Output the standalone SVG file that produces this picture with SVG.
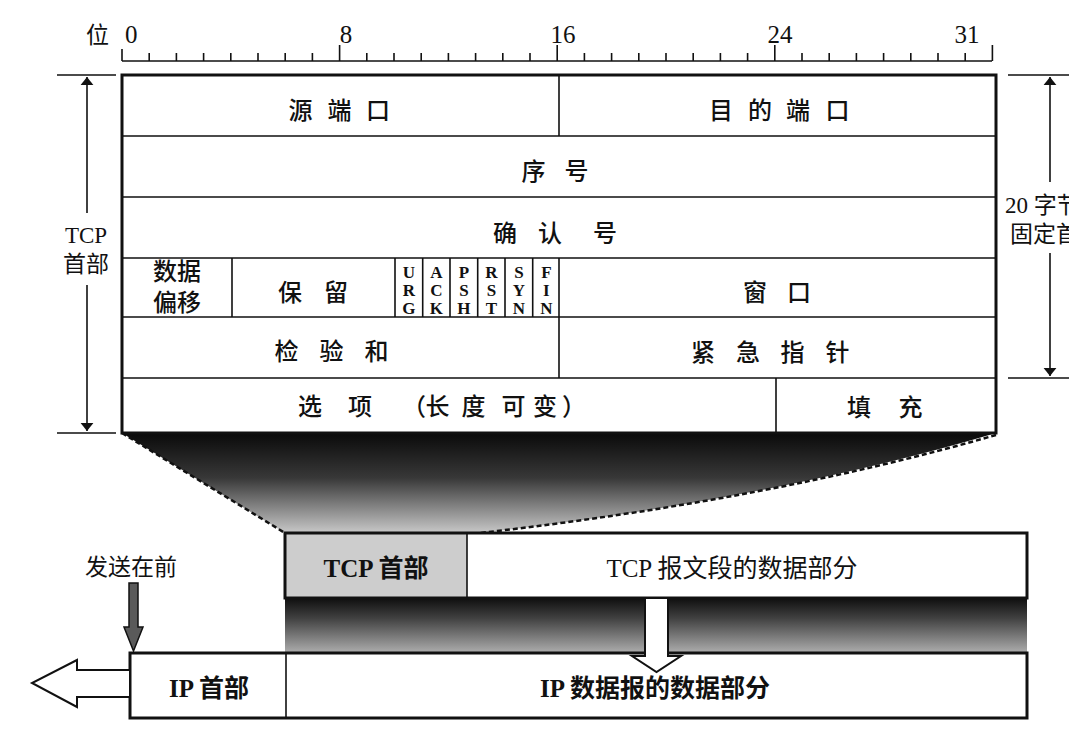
<svg xmlns="http://www.w3.org/2000/svg" width="1069" height="739" viewBox="0 0 1069 739">
<style>
.cn{font-family:"Noto Sans CJK SC","Liberation Serif",sans-serif;font-size:24px;font-weight:500;fill:#111}
.num{font-family:"Liberation Serif","Noto Sans CJK SC",serif;font-size:25px;fill:#111}
.lbl{font-family:"Liberation Serif","Noto Sans CJK SC",serif;font-size:23px;fill:#111}
.flag{font-family:"Liberation Serif",serif;font-size:17px;font-weight:bold;fill:#111;text-anchor:middle}
.big{font-family:"Liberation Serif","Noto Sans CJK SC",serif;font-size:25px;fill:#111}
.b{font-weight:bold}
.mid{text-anchor:middle}
.thin{stroke:#111;stroke-width:1.6;fill:none}
.thick{stroke:#111;stroke-width:3;fill:none}
.hollow{fill:#fff;stroke:#111;stroke-width:2;stroke-linejoin:miter}
</style>
<defs>
<marker id="ah" viewBox="0 0 10 20" refX="10" refY="10" markerWidth="8" markerHeight="16" markerUnits="userSpaceOnUse" orient="auto">
<path d="M0,2 L10,10 L0,18 Z" fill="#111"/>
</marker>
<linearGradient id="funnel" x1="0" y1="0" x2="0" y2="1">
<stop offset="0" stop-color="#0a0a0a"/>
<stop offset="0.45" stop-color="#383838"/>
<stop offset="1" stop-color="#c8c8c8"/>
</linearGradient>
<linearGradient id="shade" x1="0" y1="0" x2="0" y2="1">
<stop offset="0" stop-color="#0e0e0e"/>
<stop offset="0.35" stop-color="#404040"/>
<stop offset="1" stop-color="#b4b4b4"/>
</linearGradient>
</defs>
<rect width="1069" height="739" fill="#fff"/>

<g id="ruler">
<path class="thin" d="M122,61 H992"/>
<path class="thin" d="M122,49 V61 M149.2,53 V61 M176.4,53 V61 M203.6,53 V61 M230.8,53 V61 M258,53 V61 M285.2,53 V61 M312.4,53 V61 M339.6,45 V61 M366.8,53 V61 M394,53 V61 M421.2,53 V61 M448.4,53 V61 M475.6,53 V61 M502.8,53 V61 M530,53 V61 M557.2,45 V61 M584.4,53 V61 M611.6,53 V61 M638.8,53 V61 M666,53 V61 M693.2,53 V61 M720.4,53 V61 M747.6,53 V61 M774.8,45 V61 M802,53 V61 M829.2,53 V61 M856.4,53 V61 M883.6,53 V61 M910.8,53 V61 M938,53 V61 M965.2,53 V61 M992.4,45 V61"/>
<text class="lbl" x="86" y="43" font-size="22">位</text>
<text class="num" x="125" y="43">0</text>
<text class="num mid" x="346" y="43">8</text>
<text class="num mid" x="563" y="43">16</text>
<text class="num mid" x="780" y="43">24</text>
<text class="num mid" x="967" y="43">31</text>
</g>

<g id="funnel-shade">
<path d="M122,433 L996,433 Q770,500 480,533 L285,533 Z" fill="url(#funnel)"/>
<path d="M122,433 L285,533" stroke="#111" stroke-width="2.5" stroke-dasharray="5,3" fill="none"/>
<path d="M996,435 Q770,500 480,533" stroke="#111" stroke-width="2.5" stroke-dasharray="5,3" fill="none"/>
</g>

<g id="tcp-header-table">
<rect x="122" y="75" width="874" height="358" fill="#fff" stroke="none"/>
<path class="thin" d="M122,136 H996 M122,197 H996 M122,258 H996 M122,317 H996 M122,378 H996"/>
<path class="thin" d="M559,75 V136 M232,258 V317 M395,258 V317 M422.7,258 V317 M450,258 V317 M477.7,258 V317 M505,258 V317 M532.7,258 V317 M559,258 V378 M776,378 V433"/>
<rect class="thick" x="122" y="75" width="874" height="358"/>
</g>

<g id="field-src-port"><text class="cn" x="288.5 327.5 366" y="119">源端口</text></g>
<g id="field-dst-port"><text class="cn" x="709 748 786 825.5" y="119">目的端口</text></g>
<g id="field-seq"><text class="cn" x="521.5 564.5" y="180">序号</text></g>
<g id="field-ack"><text class="cn" x="493 538 593" y="241.5">确认号</text></g>
<g id="field-offset">
<text class="cn mid" font-size="21"><tspan x="177" y="279.5">数据</tspan><tspan x="177" y="311">偏移</tspan></text>
</g>
<g id="field-reserved"><text class="cn" x="278 324" y="300.5">保留</text></g>
<g id="field-flags">
<text class="flag" x="408.9" y="278">U</text><text class="flag" x="408.9" y="296">R</text><text class="flag" x="408.9" y="314">G</text>
<text class="flag" x="436.4" y="278">A</text><text class="flag" x="436.4" y="296">C</text><text class="flag" x="436.4" y="314">K</text>
<text class="flag" x="463.9" y="278">P</text><text class="flag" x="463.9" y="296">S</text><text class="flag" x="463.9" y="314">H</text>
<text class="flag" x="491.4" y="278">R</text><text class="flag" x="491.4" y="296">S</text><text class="flag" x="491.4" y="314">T</text>
<text class="flag" x="518.9" y="278">S</text><text class="flag" x="518.9" y="296">Y</text><text class="flag" x="518.9" y="314">N</text>
<text class="flag" x="546.4" y="278">F</text><text class="flag" x="546.4" y="296">I</text><text class="flag" x="546.4" y="314">N</text>
</g>
<g id="field-window"><text class="cn" x="743 787" y="300.5">窗口</text></g>
<g id="field-checksum"><text class="cn" x="274.5 319.5 364.5" y="360">检验和</text></g>
<g id="field-urgent"><text class="cn" x="691 736 780.5 825.5" y="361">紧急指针</text></g>
<g id="field-options"><text class="cn" x="298 348 402 425.5 461.5 501.5 533 562" y="415">选项（长度可变）</text></g>
<g id="field-padding"><text class="cn" x="847 898.5" y="416">填充</text></g>

<g id="dim-tcp-header">
<path class="thin" d="M57,75 H116 M57,433 H116"/>
<path class="thin" d="M87,213 V77" marker-end="url(#ah)"/>
<path class="thin" d="M87,285 V431" marker-end="url(#ah)"/>
<text class="lbl mid" x="86" y="243">TCP</text>
<text class="lbl mid" x="86" y="272">首部</text>
</g>

<g id="dim-fixed-header">
<path class="thin" d="M1008,75 H1069 M1008,378 H1069"/>
<path class="thin" d="M1050,182 V77" marker-end="url(#ah)"/>
<path class="thin" d="M1050,253 V376" marker-end="url(#ah)"/>
<text class="lbl" x="1005" y="213">20 字节</text>
<text class="lbl" x="1010" y="242">固定首部</text>
</g>

<g id="tcp-segment">
<rect x="285" y="598" width="742" height="57" fill="url(#shade)"/>
<rect x="285" y="533" width="742" height="65" fill="#fff"/>
<rect x="285" y="533" width="182" height="65" fill="#cdcdcd"/>
<path class="thin" d="M467,533 V598"/>
<rect class="thick" x="285" y="533" width="742" height="65"/>
<text class="big b mid" x="376" y="577">TCP 首部</text>
<text class="big mid" x="732" y="577">TCP 报文段的数据部分</text>
</g>

<g id="ip-datagram">
<rect x="130" y="653" width="897" height="65" fill="#fff"/>
<path class="thin" d="M286,653 V718"/>
<rect class="thick" x="130" y="653" width="897" height="65"/>
<text class="big b mid" x="209" y="697">IP 首部</text>
<text class="big b mid" x="655" y="697">IP 数据报的数据部分</text>
</g>

<g id="send-first">
<text class="lbl" x="85" y="575" font-size="24">发送在前</text>
</g>

<g id="connectors">
<polygon class="hollow" points="645,598 668,598 668,656 681,656 656.5,672 632,656 645,656"/>
<polygon class="hollow" points="130,670 77,670 77,660 32,683 77,707 77,697 130,697"/>
<polygon points="129,583 138,583 138,627 143,627 133.5,651 124,627 129,627" fill="#5a5a5a" stroke="#111" stroke-width="1.5"/>
</g>
</svg>
